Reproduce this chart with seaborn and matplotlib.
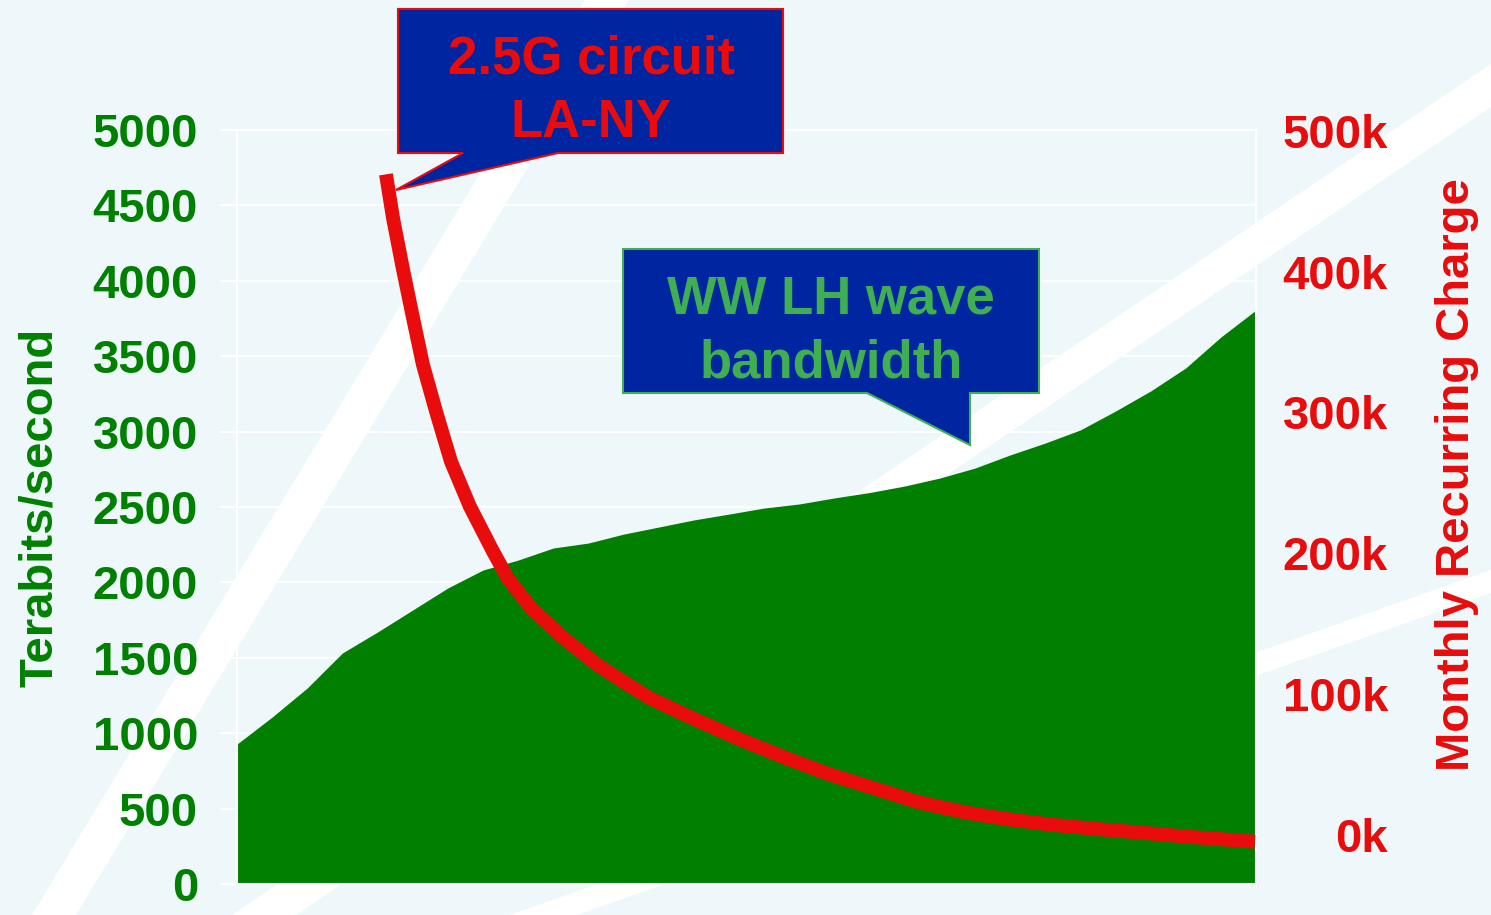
"""
Ancho de banda LH mundial frente al coste mensual de un circuito 2.5G LA-NY.
Area verde (eje izq., Tb/s) + curva roja (eje der., cargo mensual).
"""

import matplotlib.pyplot as plt
import matplotlib.patches as mpatches
import numpy as np
import pandas as pd
import seaborn as sns


W, H = 1491, 915

# area verde: una muestra por marca del eje x
BANDWIDTH = [928, 1107, 1300, 1532, 1671, 1817, 1963, 2082, 2148, 2228,
             2261, 2320, 2367, 2414, 2453, 2493, 2520, 2560, 2596, 2639,
             2692, 2758, 2845, 2924, 3011, 3136, 3269, 3422, 3627, 3806]

# curva roja: cargo mensual (miles), posicion sobre el mismo eje de categorias
CHARGE_X = [4.24, 4.44, 4.72, 5.01, 5.29, 5.66, 6.09, 6.63, 7.29, 7.71,
            8.37, 9.28, 10.24, 11.1, 11.75, 13.03, 14.29, 15.57, 16.85, 18.13,
            19.41, 20.69, 21.94, 23.22, 24.5, 25.78, 27.06, 28.97]
CHARGE_K = [469, 438, 402, 367, 334, 301, 265, 233, 201, 182,
            161, 140, 121, 107, 97, 82, 68, 55, 43, 33,
            23, 16, 11, 7, 4, 1.4, -1.4, -5]

LEFT_TICKS = list(range(0, 5001, 500))
RIGHT_TICKS = [0, 100, 200, 300, 400, 500]
RIGHT_LABELS = [f'{v}k' for v in RIGHT_TICKS]

GREEN = '#007F00'
RED = '#E80C0C'
NAVY = '#0025A0'
LIGHT_GREEN = '#40AE52'
BG = '#EEF8FB'


def px(x, y):
    """pixeles de la imagen -> fraccion de figura"""
    return (x / W, 1 - y / H)


sns.set_style('white', rc={'axes.facecolor': 'none', 'figure.facecolor': BG})
plt.rcParams['font.family'] = ['Liberation Sans', 'DejaVu Sans']
plt.rcParams['font.weight'] = 'bold'
plt.rcParams['axes.labelweight'] = 'bold'

fig = plt.figure(figsize=(W / 100, H / 100), dpi=100)
ax = fig.add_axes([237 / W, 1 - 884 / H, (1256 - 237) / W, (884 - 130) / H])

# franjas blancas decorativas del fondo
franjas = [
    [(32, 915), (76, 915), (629, 0), (585, 0)],
    [(232, 915), (296, 915), (1491, 107), (1491, 64)],
    [(510, 915), (577, 915), (1491, 593), (1491, 570)],
]
for f in franjas:
    fig.add_artist(mpatches.Polygon([px(*p) for p in f], closed=True,
                                    transform=fig.transFigure,
                                    facecolor='white', edgecolor='none', zorder=-5))

# area verde
x = np.arange(len(BANDWIDTH))
ax.fill_between(x, 0, BANDWIDTH, color=GREEN, lw=0, zorder=2)
ax.set_xlim(0, len(BANDWIDTH) - 1)
ax.set_ylim(0, 5000)
ax.set_xticks(x)
ax.set_yticks(LEFT_TICKS)
ax.set_axisbelow(True)
ax.yaxis.grid(True, color='white', lw=1.3)
ax.xaxis.grid(False)
ax.tick_params(axis='x', length=12, width=1.5, color='white', labelbottom=False)
ax.tick_params(axis='y', length=12, width=1.5, color='white', pad=16,
               labelsize=34, labelcolor='#008000')
for s in ax.spines.values():
    s.set_color('white')
    s.set_linewidth(1.5)

ax.set_ylabel('Terabits/second', fontsize=34, color='#008000', fontweight='bold')
ax.yaxis.set_label_coords(-0.1933, 0.5)
ax.yaxis.label.set_verticalalignment('center')

# curva roja en el eje secundario
ax2 = ax.twinx()
df_cargo = pd.DataFrame({'pos': CHARGE_X, 'cargo': CHARGE_K})
sns.lineplot(data=df_cargo, x='pos', y='cargo', ax=ax2, color=RED,
             linewidth=10, solid_capstyle='butt', solid_joinstyle='round',
             sort=False, estimator=None)
ax2.set_ylim(-35, 500.5)
ax2.set_yticks(RIGHT_TICKS)
ax2.set_yticklabels(RIGHT_LABELS)
ax2.tick_params(axis='y', length=0, pad=95, labelsize=34, labelcolor=RED)
for lbl in ax2.get_yticklabels():
    lbl.set_horizontalalignment('right')
ax2.grid(False)
for s in ax2.spines.values():
    s.set_visible(False)
ax2.set_xlabel('')
ax2.set_ylabel('Monthly Recurring Charge', fontsize=34, color=RED, fontweight='bold')
ax2.yaxis.set_label_coords(1.1972, 0.5424)
ax2.yaxis.label.set_verticalalignment('center')

# bocadillos
bocadillos = [
    {'poly': [(398, 9), (783, 9), (783, 153), (558, 153), (396, 190), (463, 153), (398, 153)],
     'borde': RED, 'color': RED, 'lineas': [('2.5G circuit', 591, 73), ('LA-NY', 591, 137)]},
    {'poly': [(623, 249), (1039, 249), (1039, 393), (970, 393), (970, 445), (867, 393), (623, 393)],
     'borde': LIGHT_GREEN, 'color': LIGHT_GREEN,
     'lineas': [('WW LH wave', 831, 313), ('bandwidth', 831, 377)]},
]
for b in bocadillos:
    fig.add_artist(mpatches.Polygon([px(*p) for p in b['poly']], closed=True,
                                    transform=fig.transFigure, facecolor=NAVY,
                                    edgecolor=b['borde'], lw=1.5, zorder=10))
    for texto, tx, ty in b['lineas']:
        fig.text(*px(tx, ty), texto, ha='center', va='baseline', fontsize=38,
                 color=b['color'], zorder=11)

fig.savefig('out.png', dpi=100, facecolor=BG)
